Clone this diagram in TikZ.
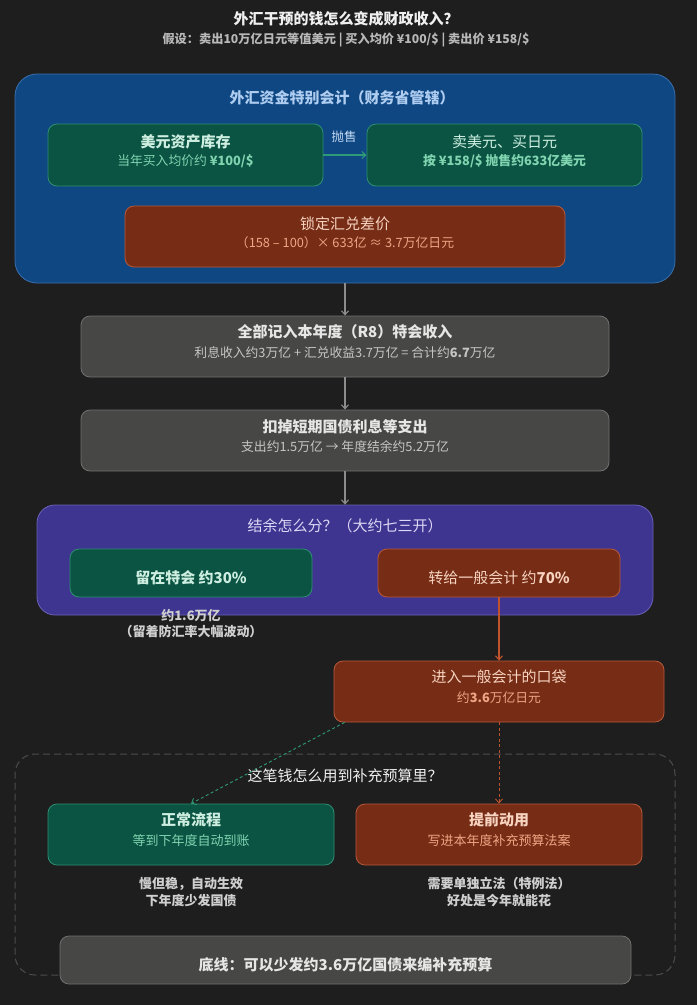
\documentclass[tikz,border=0pt]{standalone}
\usepackage{fontspec}
\setmainfont{Noto Sans CJK SC}
\usetikzlibrary{arrows.meta,calc}
\definecolor{bgc}{HTML}{1E1E1E}
\definecolor{titlec}{HTML}{F0F0F0}
\definecolor{subtc}{HTML}{B8B8B8}
\definecolor{bluefill}{HTML}{0F4783}
\definecolor{blueline}{HTML}{3A6FAE}
\definecolor{bluetext}{HTML}{AECDF0}
\definecolor{gfill}{HTML}{0B5443}
\definecolor{gline}{HTML}{2E8F72}
\definecolor{gmain}{HTML}{CDEEE0}
\definecolor{gsub}{HTML}{80D4B0}
\definecolor{ofill}{HTML}{762C15}
\definecolor{oline}{HTML}{B8593A}
\definecolor{omain}{HTML}{F7D3C0}
\definecolor{osub}{HTML}{F0A585}
\definecolor{grfill}{HTML}{474745}
\definecolor{grline}{HTML}{707070}
\definecolor{grmain}{HTML}{E6E6E6}
\definecolor{grsub}{HTML}{C6C6C6}
\definecolor{pfill}{HTML}{3E3590}
\definecolor{pline}{HTML}{6B62B8}
\definecolor{ptext}{HTML}{DDD8F6}
\definecolor{conn}{HTML}{8C8C8C}
\definecolor{oconn}{HTML}{C0532E}
\definecolor{gconn}{HTML}{2F9A78}
\definecolor{dashc}{HTML}{4C4C4C}
\definecolor{notec}{HTML}{CFCFCF}
\begin{document}
\begin{tikzpicture}[x=1pt,y=-1pt,
  box/.style={rounded corners=9pt, draw, line width=0.8pt, inner sep=0pt},
  gbox/.style={box, fill=gfill, draw=gline},
  obox/.style={box, fill=ofill, draw=oline},
  graybox/.style={box, fill=grfill, draw=grline},
  bigT/.style={font=\fontsize{15}{17}\selectfont\bfseries, inner sep=0pt},
  regT/.style={font=\fontsize{15}{17}\selectfont, inner sep=0pt},
  subT/.style={font=\fontsize{12.8}{15}\selectfont, inner sep=0pt},
  noteT/.style={font=\fontsize{13}{15}\selectfont\bfseries, inner sep=0pt, text=notec},
  flow/.style={draw=conn, line width=1.1pt, -{Straight Barb[length=4pt,width=7pt]}},
  oflow/.style={draw=oconn, line width=1.1pt, -{Straight Barb[length=4pt,width=7pt]}},
]
\fill[bgc] (0,0) rectangle (697,1005);
\useasboundingbox (0,0) rectangle (697,1005);

% titles
\node[font=\fontsize{15}{18}\selectfont\bfseries, text=titlec, inner sep=0pt] (title) at (346,19) {外汇干预的钱怎么变成财政收入？};
\node[font=\fontsize{12.2}{14}\selectfont\bfseries, text=subtc, inner sep=0pt] (subtitle) at (346,40) {假设：卖出10万亿日元等值美元 | 买入均价 ¥100/\$ | 卖出价 ¥158/\$};

% blue container
\node[rounded corners=22pt, draw=blueline, fill=bluefill, line width=0.8pt, minimum width=660pt, minimum height=209pt, inner sep=0pt] (fx) at (345,178.5) {};
\node[bigT, text=bluetext] (fxT) at (342,98) {外汇资金特别会计（财务省管辖）};

\node[gbox, minimum width=275pt, minimum height=62pt] (usd) at (185.5,155) {};
\node[bigT, text=gmain] (usdT) at (185.5,142) {美元资产库存};
\node[subT, text=gsub] (usdS) at (185.5,161) {当年买入均价约 \textbf{¥100/\$}};

\node[gbox, minimum width=275pt, minimum height=62pt] (sell) at (504.5,155) {};
\node[regT, text=gmain] (sellT) at (504.5,142) {卖美元、买日元};
\node[subT, text=gsub] (sellS) at (504.5,161) {\textbf{按 ¥158/\$ 抛售约633亿美元}};

\draw[draw=gconn, line width=1.1pt, -{Straight Barb[length=4pt,width=7pt]}] (usd.east) -- (sell.west);
\node[font=\fontsize{12.5}{14}\selectfont, text=bluetext!70!white, inner sep=0pt] (sellL) at (344,137) {抛售};

\node[obox, minimum width=440pt, minimum height=61pt] (lock) at (345,236.5) {};
\node[regT, text=omain] (lockT) at (345,224) {锁定汇兑差价};
\node[subT, text=osub] (lockS) at (345,243) {（158 – 100）× 633亿 ≈ 3.7万亿日元};

% gray boxes
\node[graybox, minimum width=528pt, minimum height=61pt] (inc) at (345,346.5) {};
\node[bigT, text=grmain] (incT) at (345,332) {全部记入本年度（R8）特会收入};
\node[subT, text=grsub] (incS) at (345,353) {利息收入约3万亿 + 汇兑收益3.7万亿 = 合计约\textbf{6.7}万亿};

\node[graybox, minimum width=528pt, minimum height=61pt] (exp) at (345,440.5) {};
\node[bigT, text=grmain] (expT) at (345,427) {扣掉短期国债利息等支出};
\node[subT, text=grsub] (expS) at (345,447) {支出约1.5万亿 → 年度结余约5.2万亿};

% purple container
\node[rounded corners=18pt, draw=pline, fill=pfill, line width=0.8pt, minimum width=616pt, minimum height=110pt, inner sep=0pt] (split) at (345,560) {};
\node[regT, text=ptext] (splitT) at (345,526) {结余怎么分？（大约七三开）};

\node[gbox, minimum width=242pt, minimum height=48pt] (keep) at (191,573) {};
\node[bigT, text=gmain] (keepT) at (191,578) {留在特会 约30\%};
\node[obox, minimum width=242pt, minimum height=48pt] (xfer) at (499,573) {};
\node[regT, text=omain] (xferT) at (499,578) {转给一般会计 约\textbf{70\%}};

\node[noteT] (keepN1) at (191,616) {约1.6万亿};
\node[noteT] (keepN2) at (191,632) {（留着防汇率大幅波动）};

% general account pocket
\node[obox, minimum width=330pt, minimum height=61pt] (pocket) at (499,691.5) {};
\node[regT, text=omain] (pocketT) at (499,677) {进入一般会计的口袋};
\node[subT, text=osub] (pocketS) at (499,698) {约\textbf{3.6}万亿日元};

% dashed container
\node[rounded corners=20pt, draw=dashc, line width=1pt, dash pattern=on 7pt off 4pt, minimum width=660pt, minimum height=221pt, inner sep=0pt] (use) at (345,864.5) {};
\node[regT, text=titlec] (useT) at (345,776) {这笔钱怎么用到补充预算里？};

\node[gbox, minimum width=286pt, minimum height=61pt] (normal) at (191,834.5) {};
\node[bigT, text=gmain] (normalT) at (191,820) {正常流程};
\node[subT, text=gsub, font=\fontsize{13}{15}\selectfont] (normalS) at (191,841) {等到下年度自动到账};

\node[obox, minimum width=286pt, minimum height=61pt] (early) at (499,834.5) {};
\node[bigT, text=omain] (earlyT) at (499,820) {提前动用};
\node[subT, text=osub, font=\fontsize{13}{15}\selectfont] (earlyS) at (499,841) {写进本年度补充预算法案};

\node[noteT] (normalN1) at (191,884) {慢但稳，自动生效};
\node[noteT] (normalN2) at (191,901) {下年度少发国债};
\node[noteT] (earlyN1) at (499,884) {需要单独立法（特例法）};
\node[noteT] (earlyN2) at (499,901) {好处是今年就能花};

\node[graybox, minimum width=571pt, minimum height=48pt] (base) at (345.5,960) {};
\node[bigT, text=grmain] (baseT) at (345.5,965) {底线：可以少发约3.6万亿国债来编补充预算};

% connectors
\draw[flow] (fx.south) -- (inc.north);
\draw[flow] (inc.south) -- (exp.north);
\draw[flow] (exp.south) -- (split.north);
\draw[oflow] (xfer.south) -- (pocket.north);
\draw[oflow, dash pattern=on 3pt off 2.5pt, line width=0.9pt] (pocket.south) -- (early.north);
\coordinate (gstart) at ($(pocket.south west)+(11,0)$);
\draw[draw=gconn, line width=0.9pt, dash pattern=on 3pt off 2.5pt, -{Straight Barb[length=4pt,width=7pt]}] (gstart) -- (normal.north);
\end{tikzpicture}
\end{document}
